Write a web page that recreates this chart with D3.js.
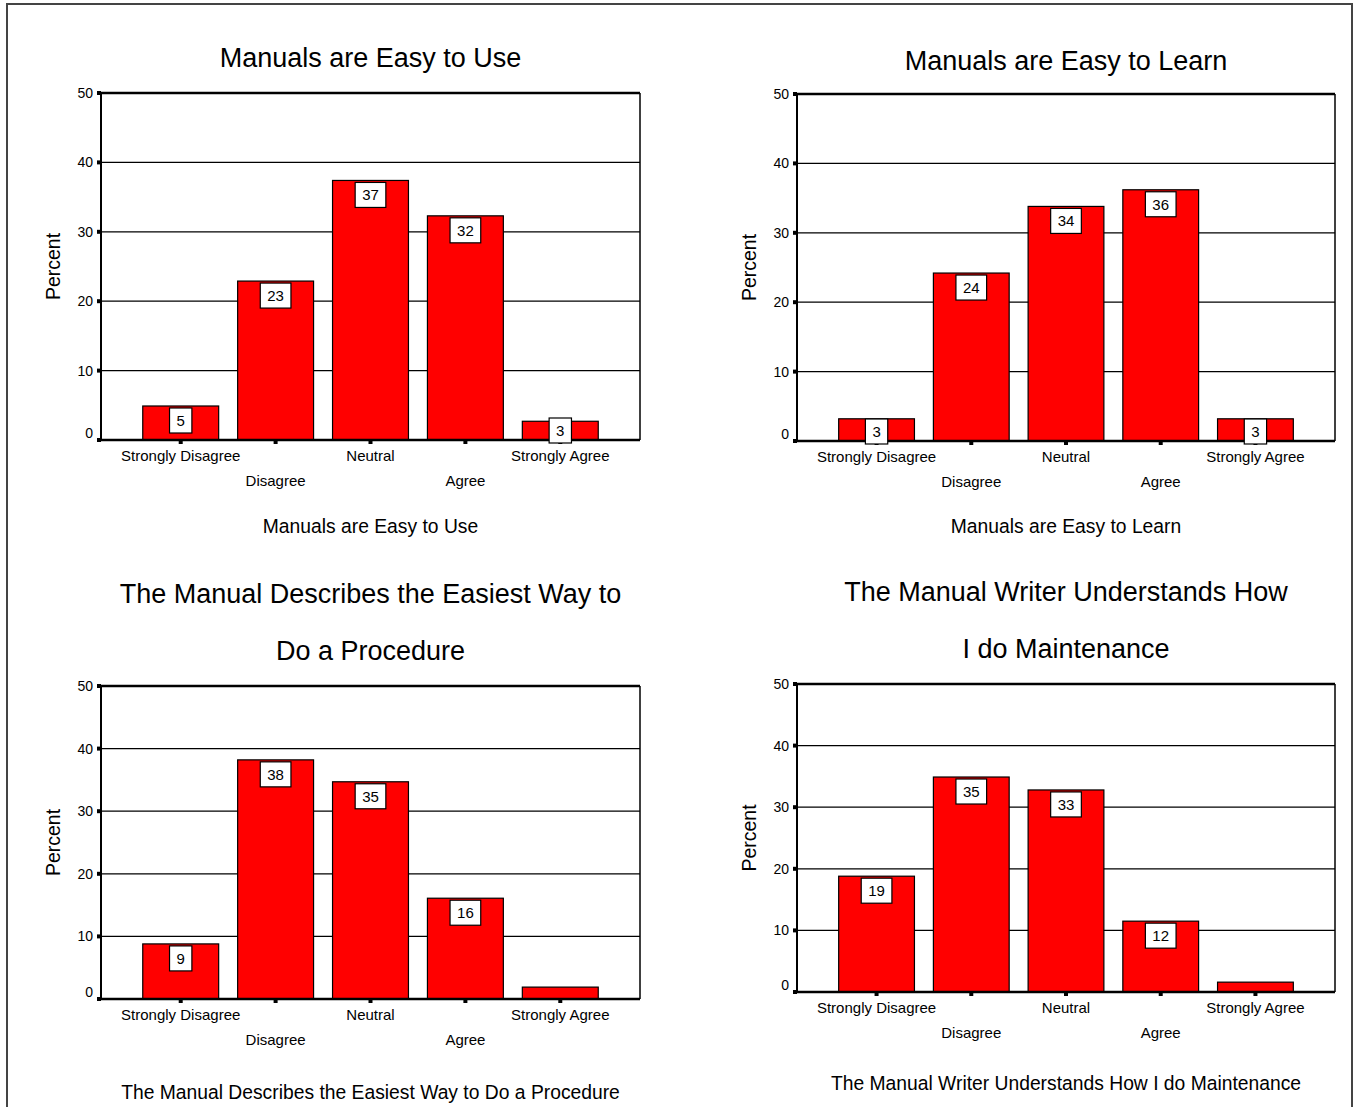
<!DOCTYPE html>
<html>
<head>
<meta charset="utf-8">
<script src="https://cdn.jsdelivr.net/npm/d3@7"></script>
<style>
  body { margin: 0; background: #fff; }
  text { font-family: "Liberation Sans", Arial, sans-serif; fill: #000; }
</style>
</head>
<body>
<svg id="chart" width="1356" height="1107"></svg>
<script>
// ---- data ----
var categories = ['Strongly Disagree', 'Disagree', 'Neutral', 'Agree', 'Strongly Agree'];
var yTicks = [0, 10, 20, 30, 40, 50];

var easyUseValues = [4.9, 22.9, 37.4, 32.3, 2.7];
var easyUseLabels = ['5', '23', '37', '32', '3'];

var easyLearnValues = [3.2, 24.2, 33.8, 36.2, 3.2];
var easyLearnLabels = ['3', '24', '34', '36', '3'];

var easiestWayValues = [8.8, 38.2, 34.7, 16.1, 1.9];
var easiestWayLabels = ['9', '38', '35', '16', null];

var writerValues = [18.8, 34.9, 32.8, 11.5, 1.6];
var writerLabels = ['19', '35', '33', '12', null];

// ---- layout of the four panels ----
var panels = [
  { title: ['Manuals are Easy to Use'], titleY: [58], xTitle: 'Manuals are Easy to Use', xTitleY: 526,
    values: easyUseValues, labels: easyUseLabels, left: 101, right: 640, top: 93, bottom: 440 },
  { title: ['Manuals are Easy to Learn'], titleY: [61], xTitle: 'Manuals are Easy to Learn', xTitleY: 526,
    values: easyLearnValues, labels: easyLearnLabels, left: 797, right: 1335, top: 94, bottom: 441 },
  { title: ['The Manual Describes the Easiest Way to', 'Do a Procedure'], titleY: [594, 651],
    xTitle: 'The Manual Describes the Easiest Way to Do a Procedure', xTitleY: 1092,
    values: easiestWayValues, labels: easiestWayLabels, left: 101, right: 640, top: 686, bottom: 999 },
  { title: ['The Manual Writer Understands How', 'I do Maintenance'], titleY: [592, 649],
    xTitle: 'The Manual Writer Understands How I do Maintenance', xTitleY: 1083,
    values: writerValues, labels: writerLabels, left: 797, right: 1335, top: 684, bottom: 992 }
];

var svg = d3.select('#chart');

// outer frame of the page
svg.append('rect')
  .attr('x', 7).attr('y', 4)
  .attr('width', 1345).attr('height', 1200)
  .style('fill', 'none')
  .style('stroke', '#444')
  .style('stroke-width', 2);

panels.forEach(function (p) {
  var cx = (p.left + p.right) / 2;

  var x = d3.scaleBand()
    .domain(categories)
    .range([p.left, p.right])
    .paddingInner(0.2)
    .paddingOuter(0.44);

  var y = d3.scaleLinear()
    .domain([0, 50])
    .range([p.bottom, p.top]);

  var g = svg.append('g');

  // titles
  p.title.forEach(function (t, i) {
    g.append('text')
      .attr('x', cx).attr('y', p.titleY[i])
      .attr('dy', '0.35em')
      .style('text-anchor', 'middle')
      .style('font-size', '27px')
      .text(t);
  });

  // grid lines
  g.selectAll('.grid')
    .data(yTicks.filter(function (d) { return d > 0; }))
    .enter()
    .append('line')
    .attr('x1', p.left).attr('x2', p.right)
    .attr('y1', function (d) { return y(d); })
    .attr('y2', function (d) { return y(d); })
    .style('stroke', '#000')
    .style('stroke-width', function (d) { return d === 50 ? 2.5 : 1.2; });

  // right frame
  g.append('line')
    .attr('x1', p.right).attr('x2', p.right)
    .attr('y1', p.top).attr('y2', p.bottom)
    .style('stroke', '#000').style('stroke-width', 1.5);

  // bars
  g.selectAll('.bar')
    .data(p.values)
    .enter()
    .append('rect')
    .attr('x', function (d, i) { return x(categories[i]); })
    .attr('y', function (d) { return y(d); })
    .attr('width', x.bandwidth())
    .attr('height', function (d) { return y(0) - y(d); })
    .style('fill', '#ff0000')
    .style('stroke', '#000')
    .style('stroke-width', 1.2);

  // y axis
  var yAxis = g.append('g')
    .attr('transform', 'translate(' + p.left + ',0)')
    .call(d3.axisLeft(y).tickValues(yTicks).tickSize(0).tickPadding(8));
  yAxis.select('.domain').remove();
  yAxis.selectAll('text')
    .style('font-size', '14px')
    .attr('dy', function (d) { return d === 0 ? '-0.2em' : '0.32em'; });
  g.selectAll('.ytick')
    .data(yTicks)
    .enter()
    .append('rect')
    .attr('x', p.left - 4).attr('y', function (d) { return y(d) - 2; })
    .attr('width', 4).attr('height', 4)
    .style('fill', '#000');

  g.append('line')
    .attr('x1', p.left).attr('x2', p.left)
    .attr('y1', p.top).attr('y2', p.bottom)
    .style('stroke', '#000').style('stroke-width', 2);

  // x axis
  g.append('line')
    .attr('x1', p.left - 4).attr('x2', p.right)
    .attr('y1', p.bottom).attr('y2', p.bottom)
    .style('stroke', '#000').style('stroke-width', 2.5);
  g.selectAll('.xtick')
    .data(categories)
    .enter()
    .append('rect')
    .attr('x', function (d) { return x(d) + x.bandwidth() / 2 - 2; })
    .attr('y', p.bottom)
    .attr('width', 4).attr('height', 4)
    .style('fill', '#000');

  g.selectAll('.xlabel')
    .data(categories)
    .enter()
    .append('text')
    .attr('x', function (d) { return x(d) + x.bandwidth() / 2; })
    .attr('y', function (d, i) { return p.bottom + (i % 2 === 0 ? 16 : 41); })
    .attr('dy', '0.35em')
    .style('text-anchor', 'middle')
    .style('font-size', '15px')
    .text(function (d) { return d; });

  // axis titles
  g.append('text')
    .attr('x', cx).attr('y', p.xTitleY)
    .attr('dy', '0.35em')
    .style('text-anchor', 'middle')
    .style('font-size', '19.3px')
    .text(p.xTitle);

  g.append('text')
    .attr('transform', 'translate(' + (p.left - 48) + ',' + ((p.top + p.bottom) / 2) + ') rotate(-90)')
    .attr('dy', '0.35em')
    .style('text-anchor', 'middle')
    .style('font-size', '19.5px')
    .text('Percent');

  // value labels in white boxes
  p.values.forEach(function (v, i) {
    var lab = p.labels[i];
    if (lab === null) return;
    var bx = x(categories[i]) + x.bandwidth() / 2;
    var boxH = 25;
    var boxTop = Math.min(y(v) + 2, p.bottom + 3 - boxH);
    var lg = g.append('g');
    var rect = lg.append('rect');
    var t = lg.append('text')
      .attr('x', bx).attr('y', boxTop + boxH / 2)
      .attr('dy', '0.35em')
      .style('text-anchor', 'middle')
      .style('font-size', '15px')
      .text(lab);
    var w = t.node().getComputedTextLength() + 14;
    rect.attr('x', bx - w / 2).attr('y', boxTop)
      .attr('width', w).attr('height', boxH)
      .style('fill', '#fff')
      .style('stroke', '#000')
      .style('stroke-width', 1.2);
  });
});
</script>
</body>
</html>
